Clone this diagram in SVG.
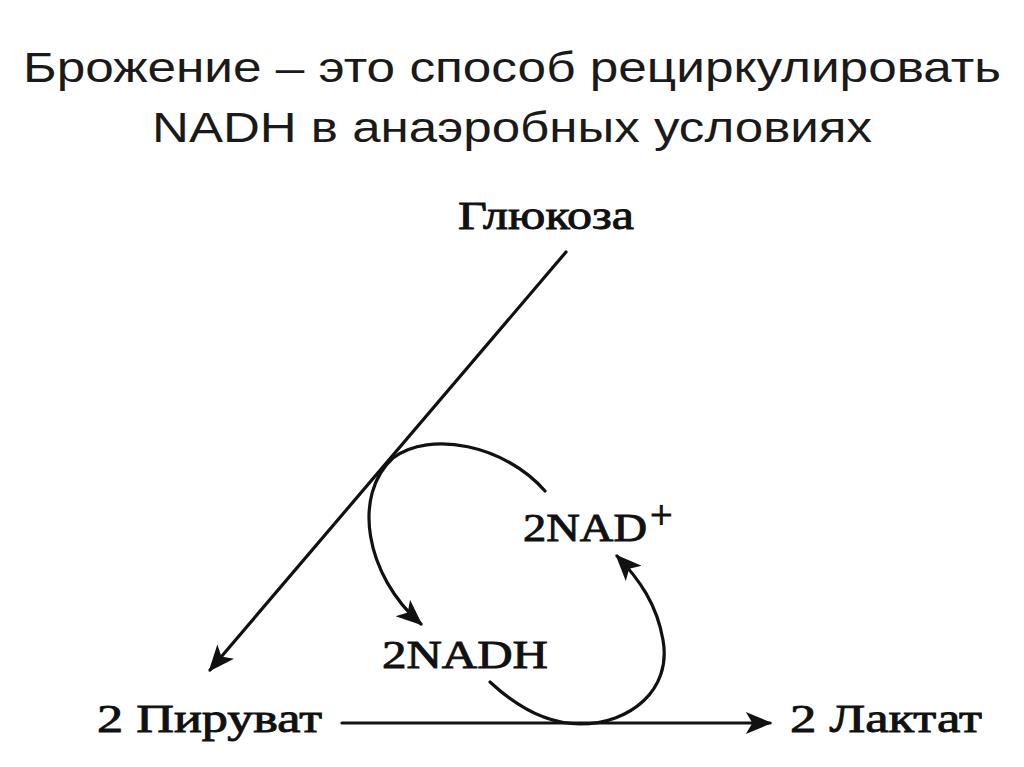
<svg xmlns="http://www.w3.org/2000/svg" width="1024" height="767" viewBox="0 0 1024 767">
<defs>
<style>
.title{font-family:"Liberation Sans",Arial,sans-serif;font-size:42px;fill:#1a1a1a}
.lbl{font-family:"Liberation Serif","Times New Roman",serif;font-size:40px;fill:#111;stroke:#111;stroke-width:0.9}
.ln{fill:none;stroke:#111;stroke-width:3.2;stroke-linecap:round}
</style>
<marker id="ahb" viewBox="0 0 12 10" refX="11" refY="5" markerWidth="28" markerHeight="22" markerUnits="userSpaceOnUse" orient="auto">
<path d="M0,0 L12,5 L0,10 L3,5 Z" fill="#111"/>
</marker>
</defs>
<rect width="1024" height="767" fill="#fff"/>
<g id="title">
<text class="title" x="512" y="82" text-anchor="middle" textLength="978" lengthAdjust="spacingAndGlyphs">Брожение – это способ рециркулировать</text>
<text class="title" x="512" y="142" text-anchor="middle" textLength="720" lengthAdjust="spacingAndGlyphs">NADH в анаэробных условиях</text>
</g>
<g id="connectors">
<path class="ln" d="M566,252 L210,670" marker-end="url(#ahb)"/>
<path class="ln" d="M342,723 L770,723" marker-end="url(#ahb)"/>
<path class="ln" d="M545,491 C505,445 430,430 393,458 C352,495 365,575 421,624" marker-end="url(#ahb)"/>
<path class="ln" d="M490,682 C520,710 550,724 580,724 C630,724 672,690 663,640 C657,605 640,580 617,556" marker-end="url(#ahb)"/>
</g>
<g id="glucose"><text class="lbl" x="458" y="229" textLength="176" lengthAdjust="spacingAndGlyphs">Глюкоза</text></g>
<g id="nadplus"><text class="lbl" x="523" y="541" textLength="124" lengthAdjust="spacingAndGlyphs">2NAD</text><text class="lbl" x="650" y="528" font-size="24" stroke-width="0.5">+</text></g>
<g id="nadh"><text class="lbl" x="382" y="668" textLength="166" lengthAdjust="spacingAndGlyphs">2NADH</text></g>
<g id="pyruvate"><text class="lbl" x="97" y="732" textLength="225" lengthAdjust="spacingAndGlyphs">2 Пируват</text></g>
<g id="lactate"><text class="lbl" x="790" y="732" textLength="192" lengthAdjust="spacingAndGlyphs">2 Лактат</text></g>
</svg>
